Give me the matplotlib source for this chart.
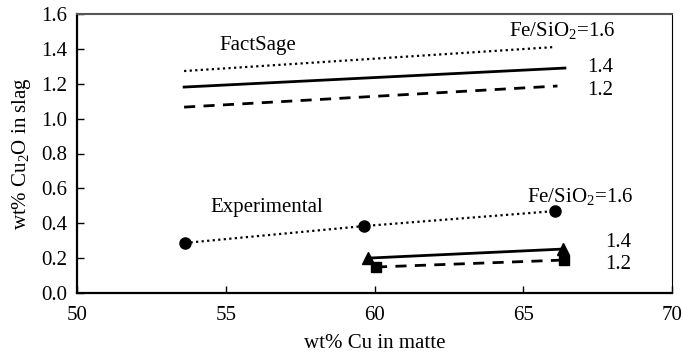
import matplotlib
matplotlib.use("Agg")
import matplotlib.pyplot as plt

plt.rcParams["font.family"] = ["Liberation Serif", "DejaVu Serif"]
plt.rcParams["mathtext.fontset"] = "custom"
plt.rcParams["mathtext.rm"] = "Liberation Serif"

# FactSage predictions (lines only)
fs16_x = [53.6, 66.0]
fs16_y = [1.273, 1.41]
fs14_x = [53.6, 66.4]
fs14_y = [1.181, 1.29]
fs12_x = [53.6, 66.15]
fs12_y = [1.066, 1.187]

# experimental points
exp16_x = [53.63, 59.65, 66.07]
exp16_y = [0.287, 0.384, 0.47]
exp14_x = [59.78, 66.34]
exp14_y = [0.2, 0.252]
exp12_x = [60.05, 66.37]
exp12_y = [0.149, 0.189]

fig = plt.figure(figsize=(6.83, 3.54), dpi=100)
ax = fig.add_axes([77 / 683, 1 - 293 / 354, (672 - 77) / 683, (293 - 14) / 354])

dot = (0, (1, 1.5))
dash = (0, (4, 3))
ax.plot(fs16_x, fs16_y, color="black", lw=1.6, ls=dot)
ax.plot(fs14_x, fs14_y, color="black", lw=2.0, ls="-")
ax.plot(fs12_x, fs12_y, color="black", lw=2.0, ls=dash)

ax.plot(exp16_x, exp16_y, color="black", lw=1.6, ls=dot, marker="o", ms=8)
ax.plot(exp14_x, exp14_y, color="black", lw=2.0, ls="-", marker="^", ms=8)
ax.plot(exp12_x, exp12_y, color="black", lw=2.0, ls=dash, marker="s", ms=7)

fs = 15
kw = dict(fontsize=fs, ha="center", va="center")
ax.text(56.08, 1.422, "FactSage", **kw)
ax.text(66.3, 1.503, r"Fe/SiO$_2$=1.6", **kw)
ax.text(67.58, 1.296, "1.4", **kw)
ax.text(67.58, 1.164, "1.2", **kw)

ax.text(56.39, 0.493, "Experimental", **kw)
ax.text(66.9, 0.55, r"Fe/SiO$_2$=1.6", **kw)
ax.text(68.18, 0.287, "1.4", **kw)
ax.text(68.18, 0.166, "1.2", **kw)

ax.set_xlim(50, 70)
ax.set_ylim(0, 1.6)
ax.set_xticks([50, 55, 60, 65, 70])
ax.set_yticks([0.0, 0.2, 0.4, 0.6, 0.8, 1.0, 1.2, 1.4, 1.6])
ax.set_yticklabels([f"{v:.1f}" for v in ax.get_yticks()])
ax.tick_params(direction="in", length=5, width=1, labelsize=fs)
ax.tick_params(axis="y", pad=7)
ax.tick_params(axis="x", pad=9)

ax.set_xlabel("wt% Cu in matte", fontsize=fs, labelpad=7)
ax.set_ylabel(r"wt% Cu$_2$O in slag", fontsize=fs, labelpad=6)

ax.spines["left"].set_linewidth(1.6)
ax.spines["bottom"].set_linewidth(1.6)
ax.spines["top"].set_color("#555555")
ax.spines["top"].set_linewidth(1.5)
ax.spines["right"].set_linewidth(0.8)

fig.savefig("out.png", dpi=100)
